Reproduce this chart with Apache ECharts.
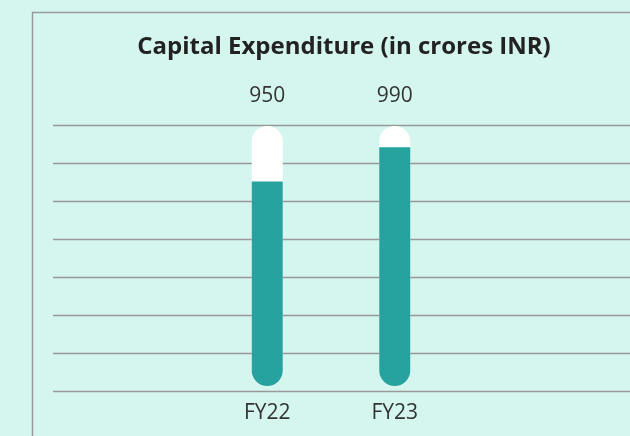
<!DOCTYPE html>
<head>
    <title>Capital Expenditure</title>
    <script type="text/javascript" src="https://cdn.jsdelivr.net/npm/echarts@6/dist/echarts.min.js"></script>
    <style>
        html, body { margin: 0; padding: 0; background: #d5f6ef; }
        #chart { width: 630px; height: 436px; }
    </style>
</head>
<body>
<div id="chart"></div>
<script>
    var years = ['FY22', 'FY23'];
    var capex = [950, 990];
    var axisMin = 710;
    var axisMax = 1015;
    var track = [axisMax, axisMax];   // white capsule behind each bar

    var myChart = echarts.init(document.getElementById('chart'));

    var option = {
        backgroundColor: '#d5f6ef',
        title: {
            text: 'Capital Expenditure (in crores INR)',
            left: 339,
            top: 20,
            textAlign: 'center',
            textStyle: {
                fontFamily: 'Open Sans',
                fontWeight: 'bold',
                fontSize: 24,
                color: '#222'
            }
        },
        graphic: [{
            type: 'rect',
            shape: { x: 32.5, y: 12.5, width: 700, height: 500 },
            style: { fill: 'none', stroke: '#9a9a9a', lineWidth: 1.5 },
            silent: true
        }],
        grid: [
            // grid lines only
            { left: 53, right: 0, top: 125, bottom: 45 },
            // bars
            { left: 203.5, width: 255, top: 126, bottom: 50 }
        ],
        xAxis: [
            { gridIndex: 0, type: 'value', show: false },
            {
                gridIndex: 1,
                type: 'category',
                data: years,
                axisLine: { show: false },
                axisTick: { show: false },
                axisLabel: {
                    margin: 10,
                    fontFamily: 'Open Sans',
                    fontSize: 21,
                    color: '#333'
                }
            }
        ],
        yAxis: [
            {
                gridIndex: 0,
                type: 'value',
                min: 0,
                max: 7,
                interval: 1,
                axisLabel: { show: false },
                axisLine: { show: false },
                axisTick: { show: false },
                splitLine: { lineStyle: { color: '#999999', width: 1.3 } }
            },
            {
                gridIndex: 1,
                type: 'value',
                min: axisMin,
                max: axisMax,
                show: false,
                splitLine: { show: false }
            }
        ],
        series: [
            {
                type: 'bar',
                xAxisIndex: 1,
                yAxisIndex: 1,
                data: track,
                barWidth: 31,
                barGap: '-100%',
                silent: true,
                itemStyle: { color: '#ffffff', borderRadius: 15.5 },
                label: {
                    show: true,
                    position: 'top',
                    distance: 13,
                    fontFamily: 'Open Sans',
                    fontSize: 21,
                    color: '#333',
                    formatter: function (p) { return capex[p.dataIndex]; }
                }
            },
            {
                type: 'bar',
                xAxisIndex: 1,
                yAxisIndex: 1,
                data: capex,
                barWidth: 31,
                barGap: '-100%',
                itemStyle: { color: '#26a29f', borderRadius: [0, 0, 15.5, 15.5] }
            }
        ]
    };

    myChart.setOption(option);
</script>
</body>
